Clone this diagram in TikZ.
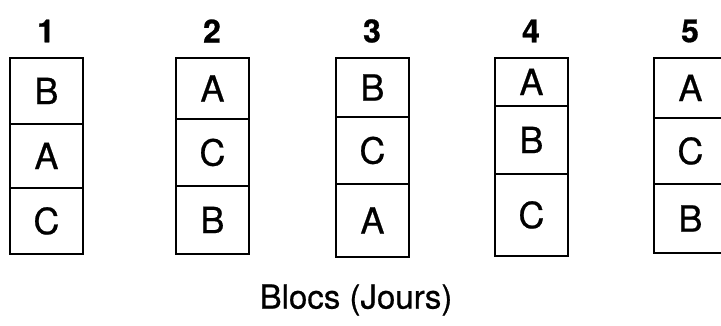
\documentclass[tikz,border=0pt]{standalone}
\usepackage{fontspec}
\setmainfont{TeX Gyre Heros}
\newfontfamily\thickfont[FakeBold=0.6]{TeX Gyre Heros}
\newfontfamily\heavyfont[FakeBold=0.8]{TeX Gyre Heros Bold}
\usepackage{tikz}
\usetikzlibrary{positioning}

\begin{document}
\begin{tikzpicture}[x=1pt, y=-1pt,
        every node/.style={inner sep=0pt},
        cell/.style={draw, line width=1.9pt, anchor=north west, minimum width=73pt,
                     font=\thickfont\fontsize{36}{38}\selectfont},
        daylabel/.style={font=\heavyfont\fontsize{32}{34}\selectfont},
        axislabel/.style={font=\thickfont\fontsize{33}{36}\selectfont}
      ]
        % feste Bildgroesse
        \useasboundingbox (0,0) rectangle (721,325);

        % Bloecke: Nummer / x / Trennlinien / Belegung von oben nach unten
        \foreach \n/\x/\ya/\yb/\yc/\yd/\la/\lb/\lc in {
            1/9/57/123/187/253/B/A/C,
            2/175/57/118/185/253/A/C/B,
            3/335/57/116/183/256/B/C/A,
            4/494/57/105/173/255/A/B/C,
            5/653/57/117/183/252/A/C/B} {
          \node[cell, minimum height={(\yb-\ya)*1pt}] (b\n a) at (\x,\ya) {\la};
          \node[cell, minimum height={(\yc-\yb)*1pt}] (b\n b) at (\x,\yb) {\lb};
          \node[cell, minimum height={(\yd-\yc)*1pt}] (b\n c) at (\x,\yc) {\lc};
          % Tagesnummer
          \node[daylabel] (j\n) at (\x+37,31) {\n};
        }

        % Achsenbeschriftung
        \node[axislabel] (blocs) at (356,300) {Blocs (Jours)};
      \end{tikzpicture}
\end{document}
